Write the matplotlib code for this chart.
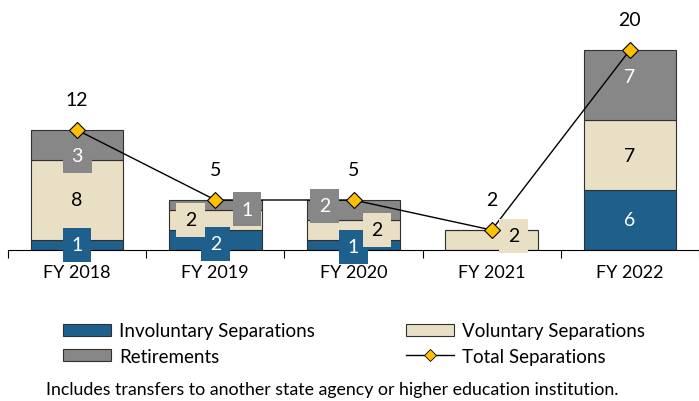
import matplotlib.pyplot as plt
import matplotlib as mpl
from matplotlib.patches import Patch
from matplotlib.lines import Line2D

mpl.rcParams["font.family"] = ["Lato", "DejaVu Sans"]

years = ["FY 2018", "FY 2019", "FY 2020", "FY 2021", "FY 2022"]
involuntary = [1, 2, 1, 0, 6]
voluntary = [8, 2, 2, 2, 7]
retirements = [3, 1, 2, 0, 7]
totals = [12, 5, 5, 2, 20]

C_INV = "#1f5f8b"
C_VOL = "#e8dfc5"
C_RET = "#878787"
C_DIA = "#ffc000"
C_EDGE = "#303030"

# manual label nudges (category units / value units), like the hand-placed excel labels
inv_dx = [0, 0, 0, 0, 0]
inv_dy = [0, -0.4, -0.2, 0, 0]
vol_dx = [0, -0.18, 0.17, 0.16, 0]
vol_dy = [0, 0, 0, 0.4, 0]
ret_dx = [0, 0.23, -0.21, 0, 0]
ret_dy = [-1.1, -0.4, 0.4, 0, 0.9]

fig = plt.figure(figsize=(6.99, 4.02), dpi=100)
ax = fig.add_axes([8 / 699, 151 / 402, 691 / 699, 241 / 402])

x = list(range(len(years)))
w = 0.67
edge = dict(edgecolor=C_EDGE, linewidth=0.8)
ax.bar(x, involuntary, w, color=C_INV, **edge)
ax.bar(x, voluntary, w, bottom=involuntary, color=C_VOL, **edge)
bot2 = [a + b for a, b in zip(involuntary, voluntary)]
ax.bar(x, retirements, w, bottom=bot2, color=C_RET, **edge)

# line under the data labels, markers on top
ax.plot(x, totals, color="black", linewidth=1, zorder=4)
ax.plot(x, totals, linestyle="none", marker="D", markersize=8,
        markerfacecolor=C_DIA, markeredgecolor="black", markeredgewidth=0.8, zorder=7)

fs = 13.5


def seg_label(xi, val, base, col, tcol, dx, dy):
    if val == 0:
        return
    # small segments get a filled box so the label spills over the bar edges
    box = None
    if val <= 3:
        box = dict(boxstyle="square,pad=0.45", facecolor=col, edgecolor="none")
    ax.text(xi + dx, base + val / 2 + dy, str(val), ha="center", va="center",
            fontsize=14, color=tcol, zorder=6, bbox=box)


for i in x:
    seg_label(i, involuntary[i], 0, C_INV, "white", inv_dx[i], inv_dy[i])
    seg_label(i, voluntary[i], involuntary[i], C_VOL, "black", vol_dx[i], vol_dy[i])
    seg_label(i, retirements[i], bot2[i], C_RET, "white", ret_dx[i], ret_dy[i])
    ax.text(i, totals[i] + 3.1, str(totals[i]), ha="center", va="center", fontsize=14)

ax.set_xlim(-0.5, 4.5)
ax.set_ylim(0, 24.1)
for s in ["top", "right", "left"]:
    ax.spines[s].set_visible(False)
ax.spines["bottom"].set_color("black")
ax.spines["bottom"].set_linewidth(0.8)
ax.set_yticks([])
ax.set_xticks([-0.5, 0.5, 1.5, 2.5, 3.5, 4.5])
ax.set_xticklabels([])
ax.set_xticks(x, minor=True)
ax.set_xticklabels(years, minor=True, fontsize=13)
ax.tick_params(axis="x", which="major", length=6, direction="out", width=0.8)
ax.tick_params(axis="x", which="minor", length=0, pad=10)

h_inv = Patch(facecolor=C_INV, edgecolor=C_EDGE, linewidth=0.8, label="Involuntary Separations")
h_vol = Patch(facecolor=C_VOL, edgecolor=C_EDGE, linewidth=0.8, label="Voluntary Separations")
h_ret = Patch(facecolor=C_RET, edgecolor=C_EDGE, linewidth=0.8, label="Retirements")
h_tot = Line2D([0], [0], color="black", linewidth=1, marker="D", markersize=6,
               markerfacecolor=C_DIA, markeredgecolor="black", markeredgewidth=0.6,
               label="Total Separations")

leg_kw = dict(frameon=False, fontsize=fs, handlelength=2.55, handleheight=0.6,
              labelspacing=0.45, handletextpad=0.45, borderpad=0, borderaxespad=0,
              loc="center left")
fig.legend(handles=[h_inv, h_ret], bbox_to_anchor=(63 / 699, 1 - 344.5 / 402), **leg_kw)
fig.legend(handles=[h_vol, h_tot], bbox_to_anchor=(406 / 699, 1 - 344.5 / 402), **leg_kw)

fig.text(332 / 699, 1 - 390 / 402,
         "Includes transfers to another state agency or higher education institution.",
         ha="center", va="center", fontsize=12.8)

fig.savefig("out.png", dpi=100)
